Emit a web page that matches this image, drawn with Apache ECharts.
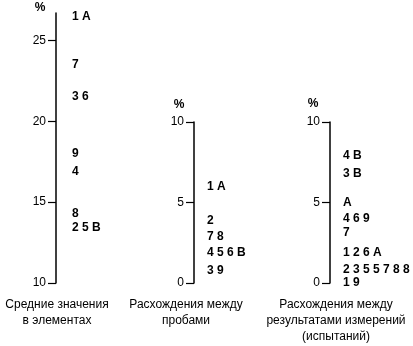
<!DOCTYPE html>
<html><head><meta charset="utf-8">
<script src="https://cdn.jsdelivr.net/npm/echarts@6/dist/echarts.min.js"></script>
<style>html,body{margin:0;padding:0;background:#fff}#c{width:413px;height:346px}</style>
</head><body><div id="c"></div>
<script>
// Panel 1: Средние значения в элементах
const labels1 = ['1 A', '7', '3 6', '9', '4', '8', '2 5 B'];
const values1 = [26.5, 23.5, 21.5, 18.0, 16.9, 14.3, 13.4];
const ticks1 = [10, 15, 20, 25];
// Panel 2: Расхождения между пробами
const labels2 = ['1 A', '2', '7 8', '4 5 6 B', '3 9'];
const values2 = [6.0, 3.9, 2.9, 1.9, 0.75];
const ticks2 = [0, 5, 10];
// Panel 3: Расхождения между результатами измерений
const labels3 = ['4 B', '3 B', 'A', '4 6 9', '7', '1 2 6 A', '2 3 5 5 7 8 8', '1 9'];
const values3 = [7.9, 6.8, 5.0, 4.0, 3.1, 1.9, 0.85, 0];
const ticks3 = [0, 5, 10];
const titles = ['Средние значения\nв элементах', 'Расхождения между\nпробами', 'Расхождения между\nрезультатами измерений\n(испытаний)'];

const FONT = 'Liberation Sans, Arial, sans-serif';
const chart = echarts.init(document.getElementById('c'));

const grids = [
  {left: 56, top: 13, width: 80, height: 270},
  {left: 194, top: 122, width: 80, height: 161},
  {left: 330, top: 122, width: 80, height: 161}
];
const ranges = [[10, 26.7], [0, 10], [0, 10]];
const tickSets = [ticks1, ticks2, ticks3];
const labelSets = [labels1, labels2, labels3];
const valueSets = [values1, values2, values3];
const dists = [16, 13, 13];

const xAxis = grids.map((g, i) => ({gridIndex: i, type: 'value', min: 0, max: 1, show: false}));
const yAxis = grids.map((g, i) => ({
  gridIndex: i, type: 'value', min: ranges[i][0], max: ranges[i][1],
  splitLine: {show: false},
  axisLine: {show: true, lineStyle: {color: '#000', width: 1.5}},
  axisTick: {show: true, length: 8, lineStyle: {color: '#000', width: 1.2}, customValues: tickSets[i]},
  axisLabel: {show: true, margin: 10, color: '#000', fontSize: 12, fontFamily: FONT, customValues: tickSets[i]}
}));
const series = grids.map((g, i) => ({
  type: 'scatter', xAxisIndex: i, yAxisIndex: i, symbolSize: 0, silent: true,
  itemStyle: {opacity: 1, color: '#000'},
  data: valueSets[i].map((v, k) => ({value: [0, v], name: labelSets[i][k]})),
  label: {show: true, position: 'right', distance: dists[i], formatter: p => p.name,
    color: '#000', fontSize: 12, fontWeight: 'bold', fontFamily: FONT}
}));

const titleX = [57, 186, 336];
const graphic = [];
titles.forEach((t, i) => graphic.push({type: 'text', x: titleX[i], y: 297,
  style: {text: t, textAlign: 'center', textVerticalAlign: 'top', font: '12px ' + FONT, lineHeight: 16, fill: '#000'}}));
[[40, 8], [179, 105], [313, 104]].forEach(p => graphic.push({type: 'text', x: p[0], y: p[1],
  style: {text: '%', textAlign: 'center', textVerticalAlign: 'middle', font: 'bold 12px ' + FONT, fill: '#000'}}));

chart.setOption({animation: false, grid: grids, xAxis, yAxis, series, graphic});
</script></body></html>
